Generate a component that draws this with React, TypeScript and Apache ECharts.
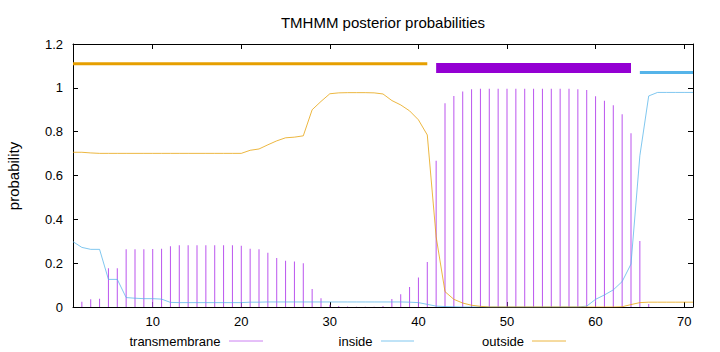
import React, { useEffect, useRef } from "react";
import * as echarts from "echarts";

// Posterior probabilities per residue position (1..71)
const transmembrane = [
  0.0, 0.024, 0.035, 0.038, 0.177, 0.177, 0.263, 0.263, 0.263, 0.265,
  0.266, 0.277, 0.282, 0.282, 0.282, 0.282, 0.282, 0.282, 0.282, 0.279,
  0.266, 0.263, 0.247, 0.224, 0.211, 0.208, 0.2, 0.082, 0.04, 0.01,
  0.005, 0.002, 0.001, 0.001, 0.001, 0.004, 0.036, 0.058, 0.091, 0.135,
  0.205, 0.667, 0.93, 0.963, 0.983, 0.994, 0.996, 0.996, 0.996, 0.996,
  0.996, 0.996, 0.996, 0.996, 0.996, 0.996, 0.996, 0.994, 0.99, 0.962,
  0.941, 0.921, 0.88, 0.793, 0.301, 0.014, 0, 0, 0, 0, 0,
];

const inside = [
  0.298, 0.272, 0.263, 0.263, 0.126, 0.126, 0.043, 0.04, 0.038, 0.038,
  0.036, 0.021, 0.02, 0.02, 0.02, 0.02, 0.02, 0.02, 0.02, 0.02,
  0.022, 0.022, 0.023, 0.023, 0.023, 0.023, 0.023, 0.023, 0.023, 0.023,
  0.023, 0.023, 0.023, 0.023, 0.023, 0.023, 0.023, 0.023, 0.022, 0.02,
  0.012, 0.004, 0.002, 0.001, 0.0, 0.0, 0.0, 0.0, 0.0, 0.0,
  0.0, 0.0, 0.0, 0.0, 0.0, 0.0, 0.0, 0.0, 0.004, 0.035,
  0.055, 0.078, 0.116, 0.196, 0.69, 0.963, 0.979, 0.979, 0.979, 0.979, 0.979,
];

const outside = [
  0.706, 0.706, 0.703, 0.701, 0.701, 0.701, 0.701, 0.701, 0.701, 0.701,
  0.701, 0.701, 0.701, 0.701, 0.701, 0.701, 0.701, 0.701, 0.701, 0.701,
  0.715, 0.721, 0.74, 0.758, 0.772, 0.775, 0.781, 0.9, 0.938, 0.973,
  0.977, 0.978, 0.978, 0.978, 0.977, 0.972, 0.942, 0.922, 0.895, 0.854,
  0.785, 0.32, 0.07, 0.035, 0.018, 0.008, 0.003, 0.0, 0.0, 0.0,
  0.0, 0.0, 0.0, 0.0, 0.0, 0.0, 0.0, 0.0, 0.0, 0.0,
  0.0, 0.0, 0.001, 0.011, 0.02, 0.022, 0.022, 0.022, 0.022, 0.022, 0.022,
];

// Predicted topology segments [start, end] and the level they are drawn at
const outsideSegment = [1, 41];
const outsideLevel = 1.11;
const tmSegment = [42, 64];
const tmLevel = 1.09;
const insideSegment = [65, 71];
const insideLevel = 1.07;

const xTicks = [10, 20, 30, 40, 50, 60, 70];
const xMin = 1;
const xMax = 71;
const yMin = 0;
const yMax = 1.2;
const yStep = 0.2;

const titleText = "TMHMM posterior probabilities";
const yName = "probability";
const legendNames = ["transmembrane", "inside", "outside"];

const TM_COLOR = "#bb55ee";
const TM_BAR_COLOR = "#9400d3";
const IN_COLOR = "#56b4e9";
const OUT_COLOR = "#e69f00";
const THIN_OPACITY = 0.75;
const FONT = "'Liberation Sans', Arial, Helvetica, sans-serif";

export default function App() {
  const ref = useRef<HTMLDivElement>(null);

  useEffect(() => {
    if (!ref.current) return;
    const chart = echarts.init(ref.current, null, { renderer: "svg" });
    const pos = transmembrane.map((_, i) => i + 1);
    const axisLine = { show: true, onZero: false, lineStyle: { color: "#000", width: 1 } };
    const xTick = { show: true, inside: true, length: 5, customValues: xTicks, lineStyle: { color: "#000" } };
    const yTick = { show: true, inside: true, length: 5, lineStyle: { color: "#000" } };

    chart.setOption({
      animation: false,
      textStyle: { fontFamily: FONT },
      grid: { left: 73, right: 27, top: 44, bottom: 45, containLabel: false },
      xAxis: [
        {
          type: "value",
          min: xMin,
          max: xMax,
          position: "bottom",
          axisLine,
          axisTick: xTick,
          axisLabel: { customValues: xTicks, color: "#000", fontSize: 13, margin: 8, fontFamily: FONT },
          splitLine: { show: false },
        },
        {
          type: "value",
          min: xMin,
          max: xMax,
          position: "top",
          axisLine,
          axisTick: xTick,
          axisLabel: { show: false },
          splitLine: { show: false },
        },
      ],
      yAxis: [
        {
          type: "value",
          min: yMin,
          max: yMax,
          interval: yStep,
          position: "left",
          axisLine,
          axisTick: yTick,
          axisLabel: { color: "#000", fontSize: 13, margin: 10, fontFamily: FONT },
          splitLine: { show: false },
        },
        {
          type: "value",
          min: yMin,
          max: yMax,
          interval: yStep,
          position: "right",
          axisLine,
          axisTick: yTick,
          axisLabel: { show: false },
          splitLine: { show: false },
        },
      ],
      series: [
        {
          name: legendNames[0],
          type: "bar",
          barWidth: 1,
          itemStyle: { color: TM_COLOR },
          data: pos.map((p, i) => [p, transmembrane[i]]),
          z: 2,
        },
        {
          name: legendNames[1],
          type: "line",
          showSymbol: false,
          symbol: "none",
          lineStyle: { color: IN_COLOR, width: 1, opacity: THIN_OPACITY },
          data: pos.map((p, i) => [p, inside[i]]),
          z: 3,
        },
        {
          name: legendNames[2],
          type: "line",
          showSymbol: false,
          symbol: "none",
          lineStyle: { color: OUT_COLOR, width: 1, opacity: THIN_OPACITY },
          data: pos.map((p, i) => [p, outside[i]]),
          z: 4,
        },
        {
          name: "outside-segment",
          type: "line",
          symbol: "none",
          lineStyle: { color: OUT_COLOR, width: 3, cap: "butt" },
          data: outsideSegment.map((p) => [p, outsideLevel]),
          z: 5,
        },
        {
          name: "tm-segment",
          type: "line",
          symbol: "none",
          lineStyle: { color: TM_BAR_COLOR, width: 10, cap: "butt" },
          data: tmSegment.map((p) => [p, tmLevel]),
          z: 5,
        },
        {
          name: "inside-segment",
          type: "line",
          symbol: "none",
          lineStyle: { color: IN_COLOR, width: 3, cap: "butt" },
          data: insideSegment.map((p) => [p, insideLevel]),
          z: 5,
        },
      ],
      graphic: [
        {
          type: "text",
          x: 383,
          y: 22,
          style: { text: titleText, fontSize: 15, fontFamily: FONT, fill: "#000", align: "center", verticalAlign: "middle" },
        },
        {
          type: "text",
          x: 13,
          y: 176,
          rotation: Math.PI / 2,
          style: { text: yName, fontSize: 15, fontFamily: FONT, fill: "#000", align: "center", verticalAlign: "middle" },
        },
        {
          type: "text",
          x: 220.5,
          y: 341,
          style: { text: legendNames[0], fontSize: 13, fontFamily: FONT, fill: "#000", align: "right", verticalAlign: "middle" },
        },
        { type: "line", shape: { x1: 229, y1: 341, x2: 263, y2: 341 }, style: { stroke: TM_COLOR, lineWidth: 1, opacity: THIN_OPACITY } },
        {
          type: "text",
          x: 372.5,
          y: 341,
          style: { text: legendNames[1], fontSize: 13, fontFamily: FONT, fill: "#000", align: "right", verticalAlign: "middle" },
        },
        { type: "line", shape: { x1: 381, y1: 341, x2: 414, y2: 341 }, style: { stroke: IN_COLOR, lineWidth: 1, opacity: THIN_OPACITY } },
        {
          type: "text",
          x: 524,
          y: 341,
          style: { text: legendNames[2], fontSize: 13, fontFamily: FONT, fill: "#000", align: "right", verticalAlign: "middle" },
        },
        { type: "line", shape: { x1: 532, y1: 341, x2: 566, y2: 341 }, style: { stroke: OUT_COLOR, lineWidth: 1, opacity: THIN_OPACITY } },
      ],
    });

    return () => chart.dispose();
  }, []);

  return <div ref={ref} style={{ width: 720, height: 352, position: "absolute", left: 0, top: 0 }} />;
}
